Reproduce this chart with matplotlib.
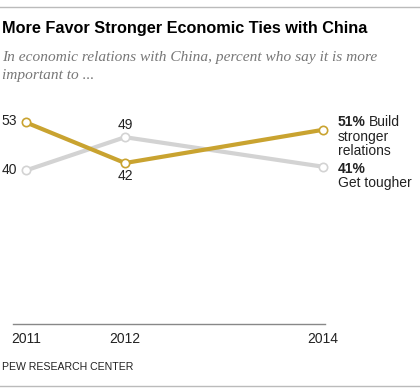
import matplotlib.pyplot as plt
from matplotlib.lines import Line2D

# data
years = [2011, 2012, 2014]
build_stronger = [53, 42, 51]
get_tougher = [40, 49, 41]

gold = '#C9A330'
grey = '#D3D3D3'

fig = plt.figure(figsize=(4.2, 3.92), dpi=100)
W, H = 420, 392

def fx(px):
    return px / W

def fy(py):
    return 1 - py / H

# frame rules at top and bottom
fig.add_artist(Line2D([0, 1], [fy(7), fy(7)], color='#BBBBBB', lw=1))
fig.add_artist(Line2D([0, 1], [fy(386), fy(386)], color='#BBBBBB', lw=1))

fig.text(fx(2), fy(28), 'More Favor Stronger Economic Ties with China',
         fontsize=11.7, fontweight='bold', family='Liberation Sans', va='center')
fig.text(fx(2), fy(58), 'In economic relations with China, percent who say it is more',
         fontsize=11.1, style='italic', family='Liberation Serif', color='#777777', va='center')
fig.text(fx(2), fy(76), 'important to ...',
         fontsize=11.1, style='italic', family='Liberation Serif', color='#777777', va='center')

ax = fig.add_axes([fx(13), fy(324), fx(312), 224 / H])
ax.set_xlim(2011 - 13 / 99, 2014 + 2 / 99)
ax.set_ylim(-6 / 3.69, 224 / 3.69 - 6 / 3.69)
ax.axis('off')
ax.axhline(ax.get_ylim()[0], color='#888888', lw=1, clip_on=False)

ax.plot(years, get_tougher, color=grey, lw=3, marker='o', ms=6,
        mfc='white', mec=grey, mew=1.2, zorder=2, clip_on=False)
ax.plot(years, build_stronger, color=gold, lw=3, marker='o', ms=6,
        mfc='white', mec=gold, mew=1.2, zorder=3, clip_on=False)

lab = dict(fontsize=10, family='Liberation Sans', color='#222222',
           textcoords='offset pixels')

def note(s, xy, dx, dy, ha='left', **kw):
    ax.annotate(s, xy, xytext=(dx, dy), ha=ha, va='center', **lab, **kw)

# 2011 labels on the left
note(str(build_stronger[0]), (years[0], build_stronger[0]), -9, 1, ha='right')
note(str(get_tougher[0]), (years[0], get_tougher[0]), -9, 0, ha='right')
# 2012 labels above/below
note(str(get_tougher[1]), (years[1], get_tougher[1]), 0, 12, ha='center')
note(str(build_stronger[1]), (years[1], build_stronger[1]), 0, -13, ha='center')
# 2014 end labels
p_b = (years[2], build_stronger[2])
p_t = (years[2], get_tougher[2])
note(f'{build_stronger[2]}%', p_b, 15, 8, fontweight='bold')
note('Build', p_b, 46, 8)
note('stronger', p_b, 15, -7)
note('relations', p_b, 15, -21)
note(f'{get_tougher[2]}%', p_t, 15, -2, fontweight='bold')
note('Get tougher', p_t, 15, -16)

# year tick labels
for y in years:
    ax.annotate(str(y), (y, ax.get_ylim()[0]), xytext=(0, -15), ha='center',
                va='center', **lab)

fig.text(fx(2), fy(367), 'PEW RESEARCH CENTER', fontsize=7.6, family='Liberation Sans',
         color='#222222', va='center')

fig.savefig('out.png', dpi=100)
